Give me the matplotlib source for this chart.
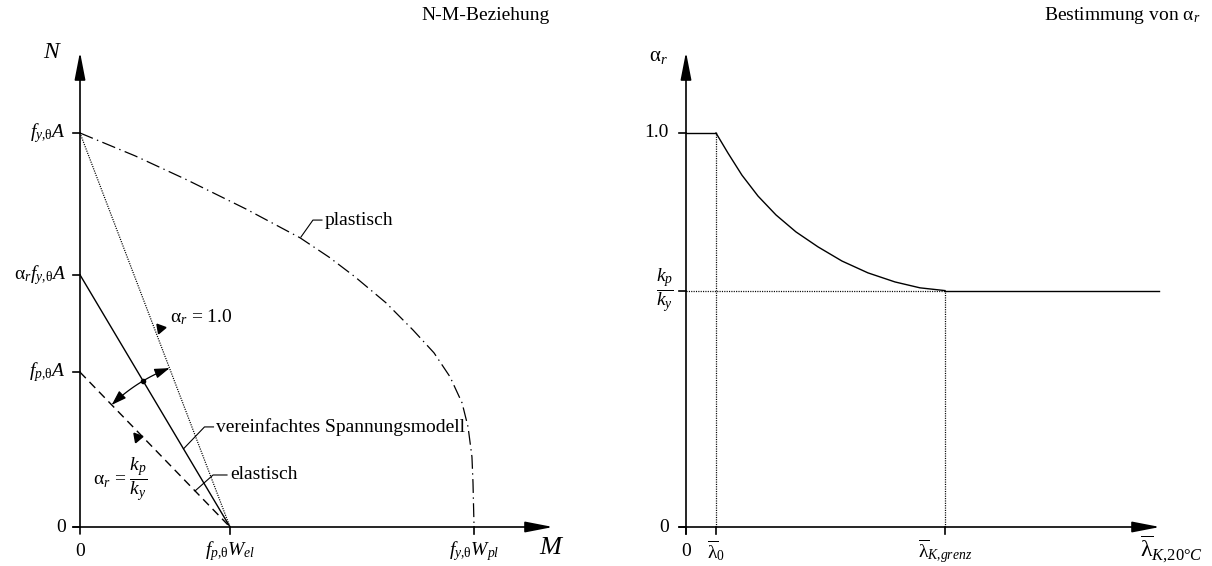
import numpy as np
import matplotlib.pyplot as plt
import matplotlib.path as mpath
from matplotlib.patches import FancyArrowPatch

plt.rcParams['font.family'] = 'Liberation Serif'
plt.rcParams['mathtext.fontset'] = 'custom'
plt.rcParams['mathtext.rm'] = 'Liberation Serif'
plt.rcParams['mathtext.it'] = 'Liberation Serif:italic'
plt.rcParams['mathtext.bf'] = 'Liberation Serif:bold'
plt.rcParams['lines.scale_dashes'] = False

# ── N-M interaction (left) ───────────────────────────────────────────────────
# N in units of f_y*A, M in units of f_p*W_el
N_FY = 1.0          # f_y,θ A
N_AR = 0.64         # α_r f_y,θ A
N_FP = 0.393        # f_p,θ A
M_EL = 1.0          # f_p,θ W_el
M_PL = 2.627        # f_y,θ W_pl

# plastic interaction curve, read point by point
plast_M = [0.0, 0.367, 0.713, 1.107, 1.467, 1.66, 1.833, 2.04, 2.22, 2.36,
           2.467, 2.547, 2.587, 2.613, 2.62, 2.627]
plast_N = [1.0, 0.942, 0.881, 0.807, 0.734, 0.685, 0.635, 0.569, 0.50, 0.442,
           0.381, 0.315, 0.254, 0.178, 0.112, 0.0]

# ── α_r over slenderness (right) ─────────────────────────────────────────────
LAM_0 = 0.2
LAM_GR = 1.727
LAM_END = 3.15
A_KPKY = 0.60

curve_lam = [0.2, 0.28, 0.373, 0.48, 0.60, 0.733, 0.88, 1.04, 1.213, 1.393,
             1.56, 1.727]
curve_alpha = [1.0, 0.949, 0.893, 0.840, 0.792, 0.749, 0.711, 0.675, 0.645,
               0.622, 0.607, 0.60]

# ── layout in pixels (figure 1212 x 566) ─────────────────────────────────────
W, H = 1212, 566
SX, SY = 150.0, 394.0          # px per data unit
X0_L, X0_R, Y0 = 80, 686, 527   # axis origins (y from top)
TICK = 7
FS = 14

fig = plt.figure(figsize=(W / 100, H / 100), dpi=100)
axL = fig.add_axes([0, 0, 1, 1])
axR = fig.add_axes([0, 0, 1, 1])
for ax, x0 in ((axL, X0_L), (axR, X0_R)):
    ax.set_xlim(-x0 / SX, (W - x0) / SX)
    ax.set_ylim(-(H - Y0) / SY, Y0 / SY)
    ax.set_facecolor('none')
    ax.axis('off')

tx = TICK / SX
ty = TICK / SY
LW_AX = 1.2
LW = 1.0


def axis_arrow(ax, start, tip):
    ax.add_patch(FancyArrowPatch(start, tip, arrowstyle='-|>,head_length=17,head_width=3.3',
                                 mutation_scale=1, lw=LW_AX, color='k',
                                 shrinkA=0, shrinkB=0, zorder=5))


def leader(ax, pts, text):
    xs, ys = zip(*pts)
    ax.plot(xs, ys, color='k', lw=0.8)
    ax.text(xs[-1] + 3 / SX, ys[-1], text, fontsize=FS, ha='left', va='center')


# ---------------------------------------------------------------- left panel
axis_arrow(axL, (0, -ty), (0, 475 / SY))
axis_arrow(axL, (-tx, 0), (473 / SX, 0))

for v in (0, N_FP, N_AR, N_FY):
    axL.plot([-tx, 0], [v, v], color='k', lw=LW_AX)
for v in (M_EL, M_PL):
    axL.plot([v, v], [-ty, 0], color='k', lw=LW_AX)

ylabels = ['0', r'$f_{p{,}\mathrm{\theta}}A$', r'$\mathrm{\alpha}_r f_{y{,}\mathrm{\theta}}A$',
           r'$f_{y{,}\mathrm{\theta}}A$']
for v, s in zip((0, N_FP, N_AR, N_FY), ylabels):
    axL.text(-14 / SX, v, s, fontsize=FS, ha='right', va='center')
xlabels = ['0', r'$f_{p{,}\mathrm{\theta}}W_{el}$', r'$f_{y{,}\mathrm{\theta}}W_{pl}$']
for v, s in zip((0, M_EL, M_PL), xlabels):
    axL.text(v, -24 / SY, s, fontsize=FS, ha='center', va='center')

axL.text(-27 / SX, 475 / SY, '$N$', fontsize=17, ha='center', va='center')
axL.text(472 / SX, -21 / SY, '$M$', fontsize=19, ha='center', va='center')

# elastic limits and simplified stress model
axL.plot([0, M_EL], [N_FY, 0], color='k', lw=0.9, ls=(0, (0.8, 0.9)))
axL.plot([0, M_EL], [N_AR, 0], color='k', lw=LW)
axL.plot([0, M_EL], [N_FP, 0], color='k', lw=LW, ls=(0, (6, 3.8)))
axL.plot(plast_M, plast_N, color='k', lw=0.9, ls=(0, (10, 3.2, 1, 3.2)))

# angle arc between α_r = k_p/k_y and α_r = 1.0
R = 170.0
a_lo = np.arctan2(N_FP * SY, -M_EL * SX)
a_hi = np.arctan2(N_FY * SY, -M_EL * SX)
a_mid = np.arctan2(N_AR * SY, -M_EL * SX)
t = np.linspace(a_lo, a_hi, 40)
arc = np.column_stack([M_EL + R * np.cos(t) / SX, R * np.sin(t) / SY])
axL.add_patch(FancyArrowPatch(path=mpath.Path(arc), arrowstyle='<|-|>,head_length=9,head_width=3',
                              mutation_scale=1, lw=0.9, color='k', shrinkA=0, shrinkB=0))
axL.plot(M_EL + R * np.cos(a_mid) / SX, R * np.sin(a_mid) / SY, 'o', color='k', ms=3)

# direction marks next to the two limit lines
axL.plot(0.533, 0.505, marker=(3, 0, 40), color='k', ms=8, ls='none')
axL.plot(0.38, 0.228, marker=(3, 0, 40), color='k', ms=8, ls='none')
axL.text(0.6, 0.533, r'$\mathrm{\alpha}_r$ = 1.0', fontsize=FS, ha='left', va='center')
axL.text(0.09, 0.12, r'$\mathrm{\alpha}_r$ = $\dfrac{k_p}{k_y}$', fontsize=FS, ha='left', va='center')

# leaders
leader(axL, [(0.69, N_AR * 0.31), (0.83, 0.254), (0.89, 0.254)], 'vereinfachtes Spannungsmodell')
leader(axL, [(0.767, N_FP * 0.233), (0.887, 0.132), (0.98, 0.132)], 'elastisch')
leader(axL, [(1.473, 0.736), (1.553, 0.779), (1.613, 0.779)], 'plastisch')

axL.text((550 - X0_L) / SX, 512 / SY, 'N-M-Beziehung', fontsize=FS, ha='right', va='center')

# ---------------------------------------------------------------- right panel
axis_arrow(axR, (0, -ty), (0, 475 / SY))
axis_arrow(axR, (-tx, 0), (474 / SX, 0))

for v in (0, A_KPKY, 1.0):
    axR.plot([-tx, 0], [v, v], color='k', lw=LW_AX)
for v in (0, LAM_0, LAM_GR):
    axR.plot([v, v], [-ty, 0], color='k', lw=LW_AX)

axR.text(-17 / SX, 0, '0', fontsize=FS, ha='right', va='center')
axR.text(-17 / SX, 1.0, '1.0', fontsize=FS, ha='right', va='center')
axR.text(-12 / SX, A_KPKY, r'$\dfrac{k_p}{k_y}$', fontsize=FS, ha='right', va='center')
axR.text(0, -24 / SY, '0', fontsize=FS, ha='center', va='center')
axR.text(LAM_0, -24 / SY, r'$\overline{\mathrm{\lambda}}_0$', fontsize=FS, ha='center', va='center')
axR.text(LAM_GR, -24 / SY, r'$\overline{\mathrm{\lambda}}_{K{,}grenz}$', fontsize=FS,
         ha='center', va='center')
axR.text(454 / SX, -22 / SY, r'$\overline{\mathrm{\lambda}}_{\mathit{K{,}20°C}}$', fontsize=17,
         ha='left', va='center')
axR.text(-28 / SX, 470 / SY, r'$\mathrm{\alpha}_r$', fontsize=FS + 1, ha='center', va='center')

axR.plot([0, LAM_0], [1.0, 1.0], color='k', lw=LW)
axR.plot(curve_lam, curve_alpha, color='k', lw=LW)
axR.plot([LAM_GR, LAM_END], [A_KPKY, A_KPKY], color='k', lw=LW)

dot = dict(color='k', lw=0.9, ls=(0, (0.8, 0.9)))
axR.plot([LAM_0, LAM_0], [0, 1.0], **dot)
axR.plot([LAM_GR, LAM_GR], [0, A_KPKY], **dot)
axR.plot([0, LAM_GR], [A_KPKY, A_KPKY], **dot)

axR.text((1200 - X0_R) / SX, 512 / SY, r'Bestimmung von $\mathrm{\alpha}_r$', fontsize=FS,
         ha='right', va='center')

fig.savefig('out.png', dpi=100)
